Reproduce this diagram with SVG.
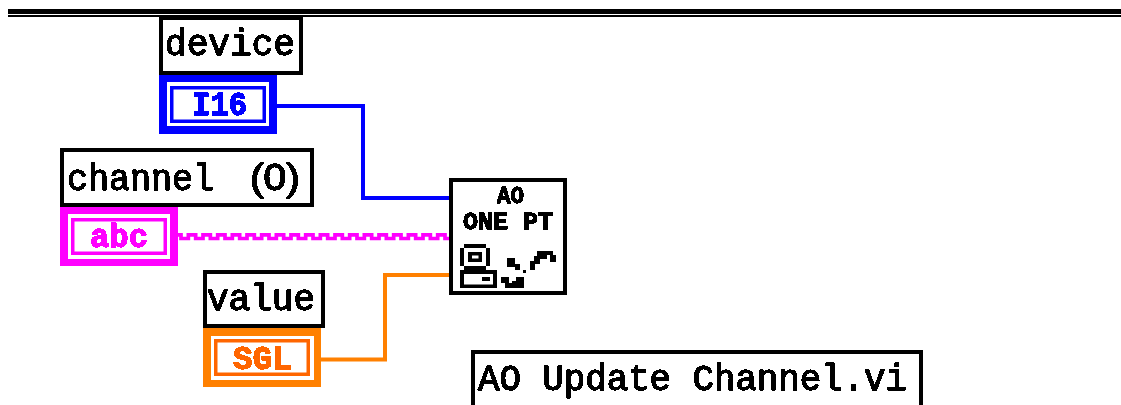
<svg xmlns="http://www.w3.org/2000/svg" width="1121" height="405" viewBox="0 0 1121 405">
<style>
.lbl{fill:#fff;stroke:#000;stroke-width:4}
.t{font-family:"Liberation Mono",monospace;font-size:36px;fill:#000;stroke:#000;stroke-width:1;filter:url(#crisp)}
.b{font-family:"Liberation Mono",monospace;font-weight:bold;font-size:33px;stroke-width:1;filter:url(#crisp)}
.n{font-family:"Liberation Mono",monospace;font-weight:bold;font-size:23px;fill:#000;stroke:#000;stroke-width:.8;filter:url(#crisp)}
.w{fill:none;stroke-width:4}
.inner{fill:#fff;stroke-width:3.5}
</style>
<defs>
<filter id="crisp" x="-5%" y="-20%" width="110%" height="140%" color-interpolation-filters="sRGB">
<feComponentTransfer><feFuncA type="discrete" tableValues="0 1 1"/></feComponentTransfer>
</filter>
</defs>
<rect width="1121" height="405" fill="#fff"/>
<g id="rule" fill="#000">
<rect x="8" y="9" width="1113" height="5"/>
<rect x="8" y="15" width="1113" height="2"/>
</g>
<g id="connectors">
<path class="w" stroke="#0000ff" d="M277 106H363V198H450"/>
<path class="w" stroke="#ff8000" d="M321 359.500H385V275H450"/>
<path fill="none" stroke="#ff00ff" stroke-width="3.700" d="M178 234.800h3v3.700h7.340v-3.700h7.330v3.700h7.330v-3.700h7.340v3.700h7.330v-3.700h7.330v3.700h7.340v-3.700h7.330v3.700h7.330v-3.700h7.340v3.700h7.330v-3.700h7.330v3.700h7.340v-3.700h7.330v3.700h7.330v-3.700h7.340v3.700h7.330v-3.700h7.330v3.700h7.340v-3.700h7.330v3.700h7.330v-3.700h7.340v3.700h7.330v-3.700h7.330v3.700h7.340v-3.700h7.330v3.700h7.330v-3.700h7.340v3.700h7.330v-3.700h7.330v3.700h7.340v-3.700h7.330v3.700h7.330v-3.700h7.340v3.700h7.330v-3.700h7.330v3.700h7.340v-3.700h7.330v3.700h7.330v-3.700h7.340v3.700H450"/>
</g>
<g id="device-label">
<rect class="lbl" x="161" y="18" width="140" height="55"/>
<text class="t" x="165" y="55" textLength="130" lengthAdjust="spacingAndGlyphs">device</text>
</g>
<g id="device-terminal">
<rect x="159" y="75" width="118" height="59" fill="#0000ff"/>
<rect x="167" y="82" width="102" height="44" fill="#fff"/>
<rect class="inner" x="171.750" y="87.750" width="92.500" height="33.500" stroke="#0000ff"/>
<text class="b" x="192" y="115" textLength="55" lengthAdjust="spacingAndGlyphs" fill="#0000ff" stroke="#0000ff">I16</text>
</g>
<g id="channel-label">
<rect class="lbl" x="62" y="150" width="250" height="55"/>
<text class="t" y="190"><tspan x="67" textLength="147" lengthAdjust="spacingAndGlyphs">channel</tspan> <tspan x="250" font-family="Liberation Sans" textLength="50" lengthAdjust="spacingAndGlyphs">(0)</tspan></text>
</g>
<g id="channel-terminal">
<rect x="60" y="207" width="118" height="59" fill="#ff00ff"/>
<rect x="68" y="214" width="102" height="45" fill="#fff"/>
<rect class="inner" x="72.750" y="219.750" width="92.500" height="33.500" stroke="#ff00ff"/>
<text class="b" x="90" y="247" textLength="58" lengthAdjust="spacingAndGlyphs" fill="#ff00ff" stroke="#ff00ff">abc</text>
</g>
<g id="value-label">
<rect class="lbl" x="205" y="272" width="118" height="54"/>
<text class="t" x="207" y="310" textLength="108" lengthAdjust="spacingAndGlyphs">value</text>
</g>
<g id="value-terminal">
<rect x="203" y="328" width="118" height="59" fill="#ff8000"/>
<rect x="211" y="336" width="103" height="44" fill="#fff"/>
<rect class="inner" x="215.750" y="340.750" width="92.500" height="33.500" stroke="#ff6600"/>
<text class="b" x="233" y="369" textLength="59" lengthAdjust="spacingAndGlyphs" fill="#ff6600" stroke="#ff6600">SGL</text>
</g>
<g id="ao-one-pt">
<rect class="lbl" x="451" y="180" width="114" height="113"/>
<text class="n" x="497" y="203" textLength="27" lengthAdjust="spacingAndGlyphs">AO</text>
<text class="n" x="463" y="229" textLength="90" lengthAdjust="spacingAndGlyphs">ONE PT</text>
<g fill="#000">
<path d="M464 244H486V248H490V266H486V270H497V288H460V270H464V266H460V248H464Z"/>
<rect x="464" y="248" width="22" height="18" fill="#fff"/>
<rect x="468" y="252" width="14" height="10"/>
<rect x="472" y="255.500" width="6.500" height="3" fill="#fff"/>
<rect x="464" y="274" width="29" height="10.500" fill="#fff"/>
<rect x="482" y="277" width="8" height="4"/>
<rect x="530" y="261" width="5" height="9"/>
<rect x="534" y="256" width="6" height="8"/>
<rect x="537" y="251" width="10" height="8"/>
<rect x="545" y="251" width="8" height="4"/>
<rect x="550" y="255" width="6" height="7"/>
<rect x="507" y="258" width="8" height="9"/>
<rect x="515" y="264" width="5" height="6"/>
<rect x="523" y="270" width="3" height="3"/>
<rect x="501" y="277" width="8" height="6"/>
<rect x="505" y="283" width="9" height="5"/>
<path d="M512 281H516V277H524V288H514V284H512Z"/>
</g>
</g>
<g id="vi-name">
<path fill="none" stroke="#000" stroke-width="4" d="M473 405V352H921V405"/>
<text class="t" x="478" y="390" textLength="429" lengthAdjust="spacingAndGlyphs">AO Update Channel.vi</text>
</g>
</svg>
